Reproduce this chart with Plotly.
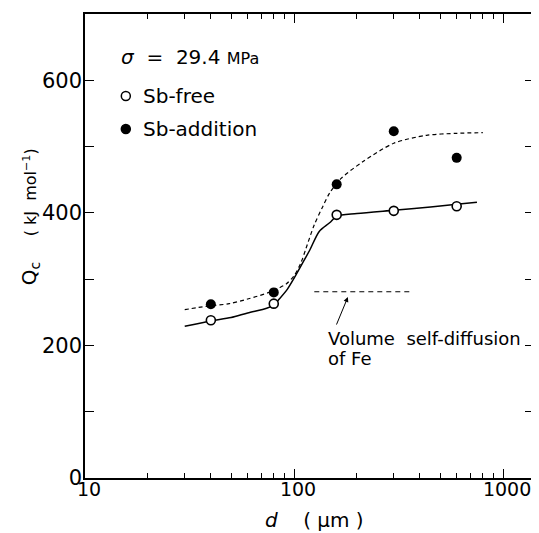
import numpy as np
import plotly.graph_objects as go

# ---- data ----
d_um = [40, 80, 160, 300, 600]
q_sb_free = [238, 263, 397, 403, 410]
q_sb_addition = [262, 280, 443, 523, 483]

fit_free_d = [30, 40, 50, 60, 74, 80, 85, 93, 102, 112, 119, 132, 148, 160, 200, 300, 450, 600, 750]
fit_free_q = [229, 237, 242, 249, 256, 261, 270, 285, 306, 329, 344, 372, 385, 395, 399, 404, 409, 413, 416]

fit_add_d = [30, 38, 49, 60, 76, 85, 92, 100, 108, 114, 125, 137, 148, 168, 213, 300, 430, 600, 800]
fit_add_q = [254, 259, 263, 270, 280, 287, 293, 305, 325, 346, 382, 409, 430, 452, 477, 505, 517, 520, 521]

fe_self_diff_d = [125, 360]
fe_self_diff_q = [281, 281]
arrow_head_d = 181
arrow_head_q = 273

x_tick_vals = [10, 100, 1000]
x_tick_text = ["10", "100", "1000"]
x_minor_vals = [20, 30, 40, 50, 60, 70, 80, 90, 200, 300, 400, 500, 600, 700, 800, 900]
y_tick_vals = [0, 100, 200, 300, 400, 500, 600, 700]
y_tick_text = ["0", "", "200", "", "400", "", "600", ""]

FONT = "DejaVu Sans"
PAGE_OFF = 8  # default body margin of the html page

fig = go.Figure()

fig.add_trace(go.Scatter(x=fit_free_d, y=fit_free_q, mode="lines",
                         line=dict(color="black", width=1.5, shape="spline", smoothing=0.8),
                         showlegend=False, hoverinfo="skip"))
fig.add_trace(go.Scatter(x=fit_add_d, y=fit_add_q, mode="lines",
                         line=dict(color="black", width=1.2, dash="4px,3px", shape="spline", smoothing=0.8),
                         showlegend=False, hoverinfo="skip"))
fig.add_trace(go.Scatter(x=fe_self_diff_d, y=fe_self_diff_q, mode="lines",
                         line=dict(color="black", width=1.1, dash="5px,4px"),
                         showlegend=False, hoverinfo="skip"))
fig.add_trace(go.Scatter(x=d_um, y=q_sb_free, mode="markers", name="Sb-free",
                         marker=dict(symbol="circle", size=9, color="white",
                                     line=dict(color="black", width=1.6)),
                         showlegend=False))
fig.add_trace(go.Scatter(x=d_um, y=q_sb_addition, mode="markers", name="Sb-addition",
                         marker=dict(symbol="circle", size=10, color="black",
                                     line=dict(color="black", width=0)),
                         showlegend=False))

# arrow pointing at the self-diffusion line
fig.add_annotation(x=np.log10(arrow_head_d), y=arrow_head_q, xref="x", yref="y",
                   text="", showarrow=True, ax=-12, ay=29, arrowhead=2,
                   arrowsize=1, arrowwidth=1, arrowcolor="black")

def ptxt(x, y, text, size=19, xanchor="left", yanchor="middle", angle=0):
    fig.add_annotation(x=x, y=y, xref="paper", yref="paper", text=text,
                       showarrow=False, xanchor=xanchor, yanchor=yanchor,
                       textangle=angle, font=dict(family=FONT, size=size, color="black"))

def px(xp):
    return (xp - 85) / 451.0

def py(yp):
    return (478 - yp) / 464.0

ptxt(px(119), py(57), "<i>σ</i>  =  29.4 <span style='font-size:16px'>MPa</span>", size=20)
ptxt(px(141), py(96), "Sb-free", size=20)
ptxt(px(141), py(129), "Sb-addition", size=20)
ptxt(px(327), py(338), "Volume  self-diffusion", size=18)
ptxt(px(327), py(358), "of Fe", size=18)
ptxt(px(316), py(520), "<i>d</i>    ( μm )", size=20, xanchor="center")
ptxt(px(30), py(217), "Q<sub>c</sub>    <span style='font-size:16px'>( kJ  mol<sup>−1</sup>)</span>",
     size=20, xanchor="center", angle=-90)

# legend markers (pixel sized circles)
for yy, fill in [(96, "white"), (129, "black")]:
    fig.add_shape(type="circle", xref="paper", yref="paper",
                  xsizemode="pixel", ysizemode="pixel",
                  xanchor=px(126), yanchor=py(yy), x0=-4.5, x1=4.5, y0=-4.5, y1=4.5,
                  line=dict(color="black", width=1.5), fillcolor=fill)

fig.update_xaxes(type="log", range=[1, 3.148],
                 tickvals=x_tick_vals, ticktext=x_tick_text,
                 ticks="inside", ticklen=9, tickwidth=1.3, tickcolor="black",
                 minor=dict(tickvals=x_minor_vals, ticks="inside", ticklen=5,
                            tickwidth=1.1, tickcolor="black", showgrid=False),
                 showline=True, linecolor="black", linewidth=1.5, mirror="ticks",
                 showgrid=False, zeroline=False,
                 ticklabelshift=4, ticklabelstandoff=-7,
                 tickfont=dict(family=FONT, size=19, color="black"))
fig.update_yaxes(range=[0, 700], tickvals=y_tick_vals, ticktext=y_tick_text,
                 ticks="inside", ticklen=9, tickwidth=1.3, tickcolor="black",
                 showline=True, linecolor="black", linewidth=1.5, mirror="ticks",
                 showgrid=False, zeroline=False,
                 ticklabelstandoff=-3,
                 tickfont=dict(family=FONT, size=21, color="black"))

fig.update_layout(width=539 - PAGE_OFF, height=533 - PAGE_OFF, autosize=False,
                  margin=dict(l=85 - PAGE_OFF, r=3, t=14 - PAGE_OFF, b=55),
                  paper_bgcolor="white", plot_bgcolor="white",
                  font=dict(family=FONT, color="black"))

fig.write_html("out.html")
